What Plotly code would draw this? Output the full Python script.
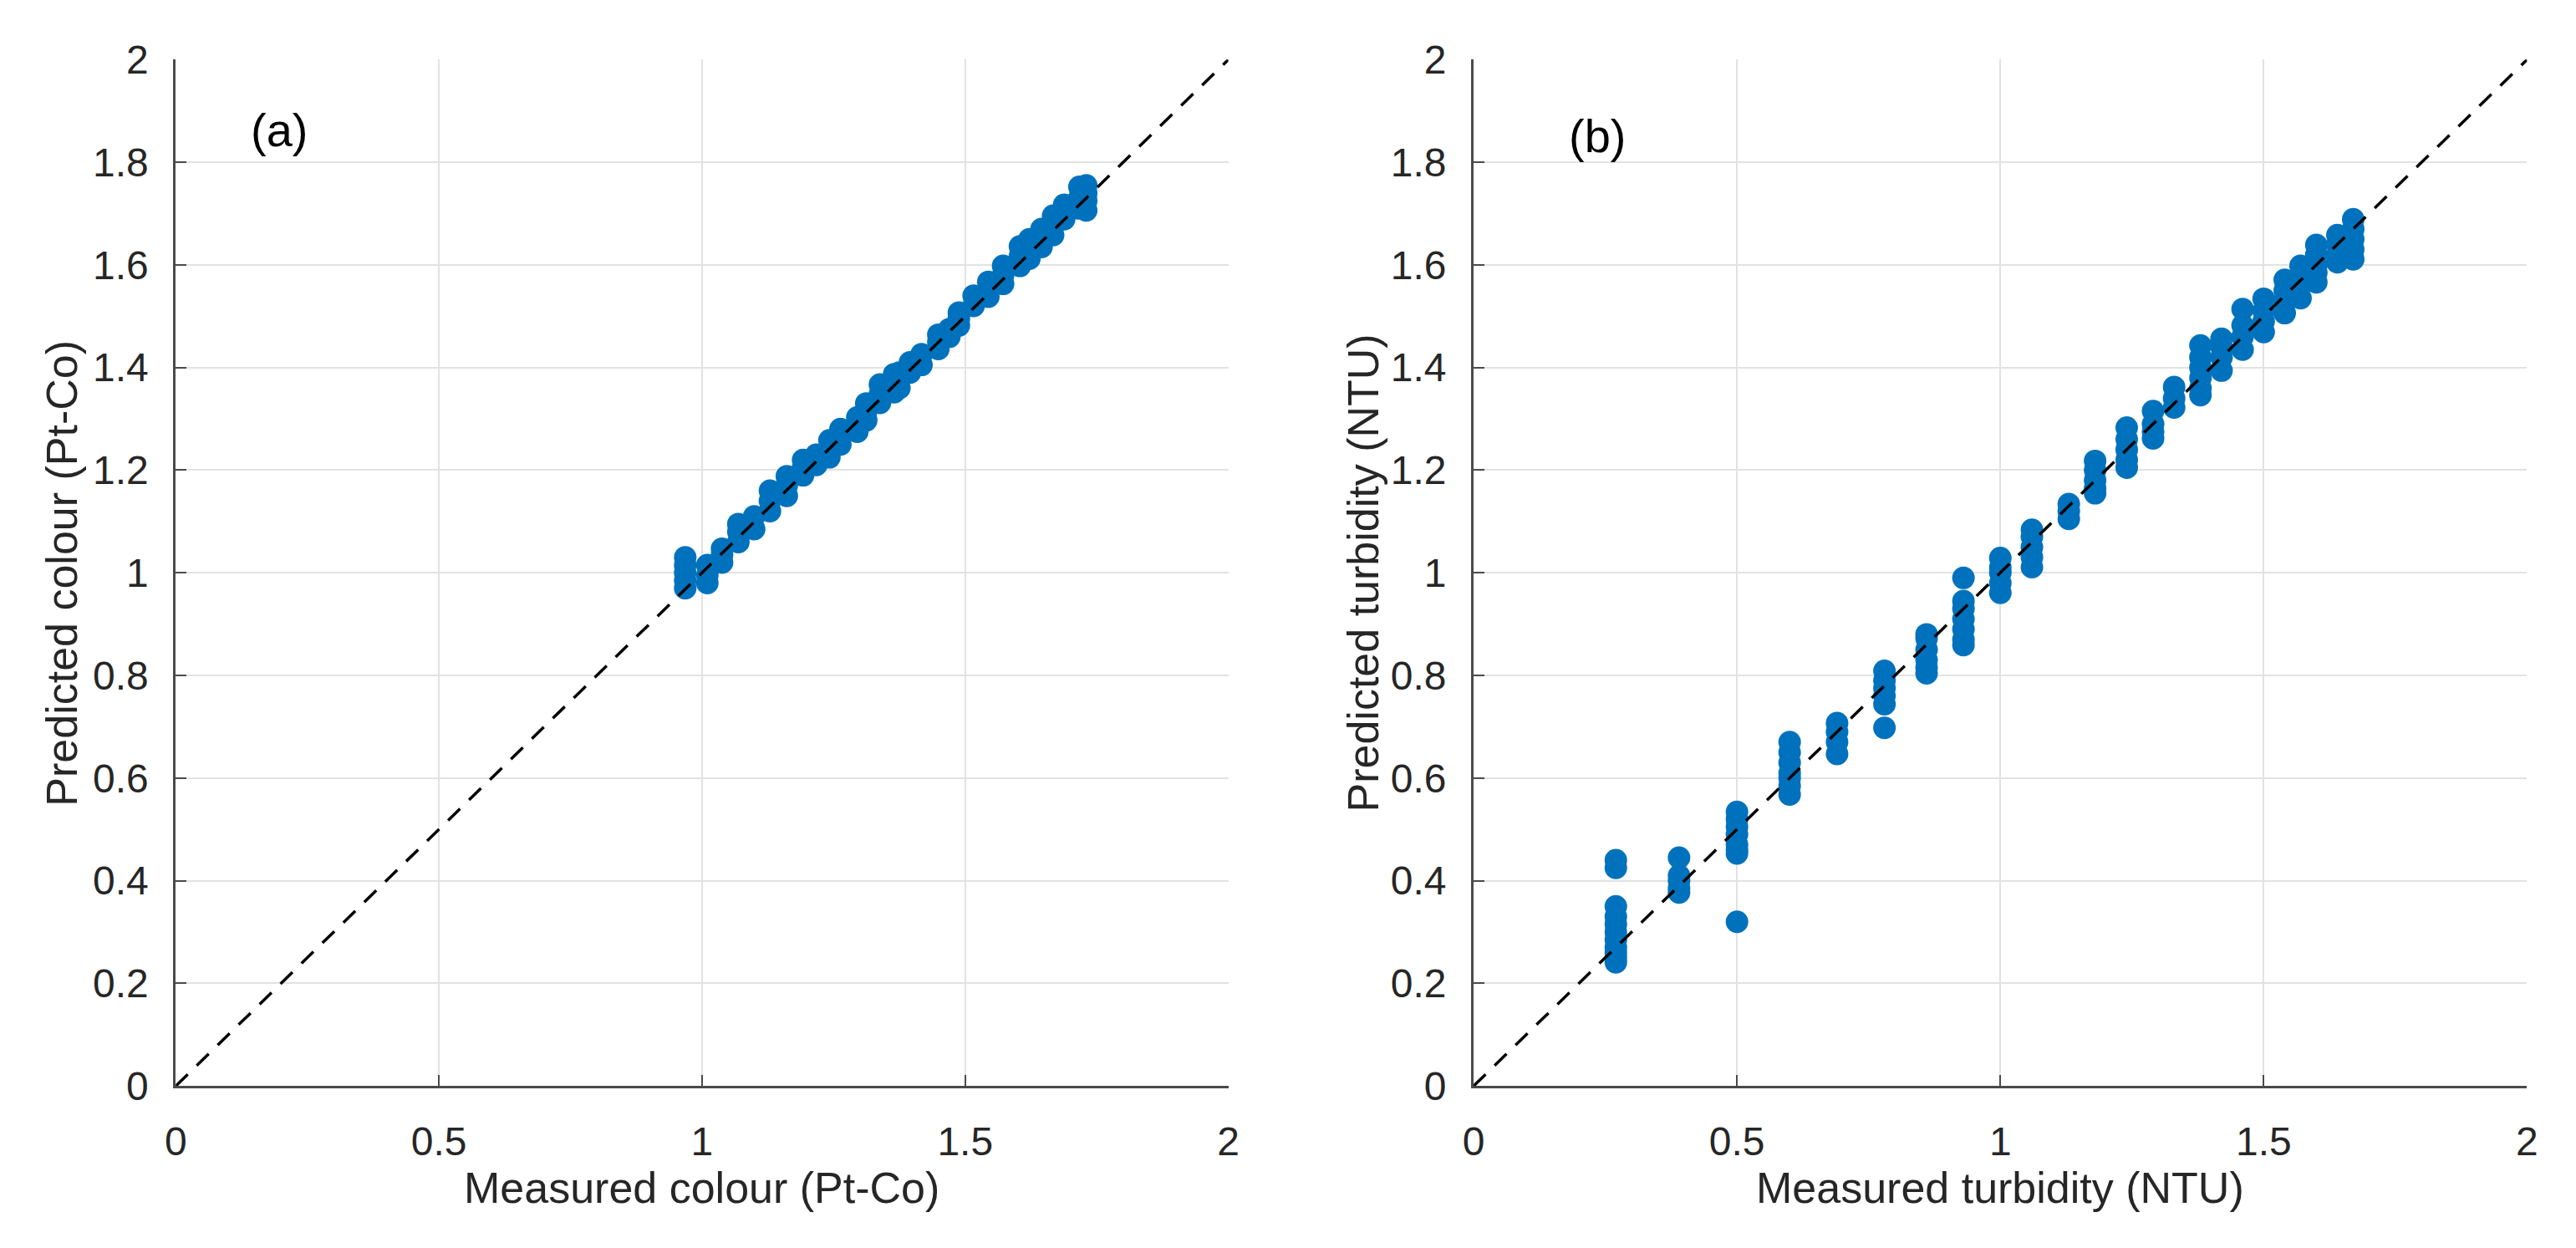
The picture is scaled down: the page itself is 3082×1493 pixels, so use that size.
import plotly.graph_objects as go

# ---------------- data ----------------
# Panel (a): colour (Pt-Co)
meas_colour = [0.968, 0.968, 0.968, 0.968, 0.968,
               1.010, 1.010, 1.010,
               1.038, 1.038, 1.038,
               1.069, 1.069, 1.069,
               1.099, 1.099,
               1.129, 1.129, 1.129,
               1.161, 1.161, 1.161,
               1.192, 1.192, 1.192,
               1.217, 1.217,
               1.242, 1.242, 1.242,
               1.263, 1.263, 1.263,
               1.295, 1.295, 1.295,
               1.312, 1.312, 1.312,
               1.338, 1.338, 1.338,
               1.365, 1.365, 1.365,
               1.375, 1.375,
               1.395, 1.395,
               1.417, 1.417,
               1.449, 1.449, 1.449,
               1.470, 1.470,
               1.488, 1.488, 1.488,
               1.516, 1.516,
               1.544, 1.544, 1.544,
               1.572, 1.572, 1.572,
               1.604, 1.604, 1.604,
               1.622, 1.622, 1.622,
               1.645, 1.645, 1.645,
               1.667, 1.667, 1.667,
               1.688, 1.688, 1.688,
               1.717, 1.717, 1.717,
               1.730, 1.730, 1.730, 1.730]
pred_colour = [0.970, 0.985, 1.000, 1.015, 1.030,
               0.980, 0.995, 1.015,
               1.020, 1.035, 1.047,
               1.060, 1.080, 1.095,
               1.085, 1.110,
               1.120, 1.140, 1.160,
               1.150, 1.170, 1.188,
               1.190, 1.205, 1.220,
               1.210, 1.230,
               1.225, 1.240, 1.258,
               1.250, 1.265, 1.280,
               1.275, 1.290, 1.303,
               1.297, 1.315, 1.330,
               1.331, 1.348, 1.367,
               1.352, 1.370, 1.387,
               1.360, 1.390,
               1.390, 1.410,
               1.405, 1.426,
               1.436, 1.450, 1.464,
               1.460, 1.475,
               1.482, 1.495, 1.507,
               1.520, 1.540,
               1.538, 1.552, 1.567,
               1.563, 1.580, 1.598,
               1.598, 1.617, 1.636,
               1.612, 1.630, 1.650,
               1.635, 1.655, 1.670,
               1.658, 1.675, 1.696,
               1.689, 1.705, 1.717,
               1.710, 1.730, 1.752,
               1.706, 1.725, 1.740, 1.755]

# Panel (b): turbidity (NTU)
meas_turb = ([0.27] * 11 + [0.39] * 5 + [0.50] * 8 + [0.60] * 7 + [0.69] * 4 +
             [0.78] * 6 + [0.86] * 6 + [0.93] * 7 + [1.00] * 5 + [1.06] * 5 +
             [1.13] * 3 + [1.18] * 5 + [1.24] * 5 + [1.29] * 4 + [1.33] * 3 +
             [1.38] * 6 + [1.42] * 4 + [1.46] * 4 + [1.50] * 4 + [1.54] * 4 +
             [1.57] * 4 + [1.60] * 5 + [1.64] * 4 + [1.67] * 5)
pred_turb = [0.440, 0.425, 0.350, 0.330, 0.315, 0.300, 0.285, 0.270, 0.260, 0.250, 0.241,
             0.445, 0.410, 0.400, 0.385, 0.377,
             0.534, 0.520, 0.505, 0.490, 0.470, 0.460, 0.453, 0.320,
             0.670, 0.650, 0.630, 0.610, 0.600, 0.585, 0.568,
             0.707, 0.690, 0.670, 0.647,
             0.809, 0.790, 0.775, 0.760, 0.744, 0.698,
             0.880, 0.872, 0.850, 0.830, 0.815, 0.804,
             0.990, 0.945, 0.930, 0.910, 0.890, 0.870, 0.859,
             1.029, 1.010, 1.000, 0.980, 0.961,
             1.084, 1.070, 1.050, 1.030, 1.011,
             1.134, 1.120, 1.105,
             1.218, 1.200, 1.180, 1.165, 1.155,
             1.283, 1.260, 1.240, 1.220, 1.205,
             1.315, 1.290, 1.275, 1.262,
             1.362, 1.340, 1.322,
             1.443, 1.420, 1.400, 1.380, 1.360, 1.346,
             1.456, 1.440, 1.420, 1.394,
             1.514, 1.482, 1.460, 1.435,
             1.534, 1.510, 1.490, 1.469,
             1.571, 1.550, 1.530, 1.506,
             1.598, 1.580, 1.560, 1.535,
             1.639, 1.620, 1.600, 1.585, 1.566,
             1.658, 1.640, 1.620, 1.605,
             1.689, 1.670, 1.650, 1.630, 1.611]

identity = [0, 2]
x_ticks = [0, 0.5, 1, 1.5, 2]
x_tick_text = ["0", "0.5", "1", "1.5", "2"]
y_ticks = [0, 0.2, 0.4, 0.6, 0.8, 1.0, 1.2, 1.4, 1.6, 1.8, 2.0]
y_tick_text = ["0", "0.2", "0.4", "0.6", "0.8", "1", "1.2", "1.4", "1.6", "1.8", "2"]

x_titles = ["Measured colour (Pt-Co)", "Measured turbidity (NTU)"]
y_titles = ["Predicted colour (Pt-Co)", "Predicted turbidity (NTU)"]
panel_labels = ["(a)", "(b)"]

# ---------------- figure ----------------
W, H = 3082, 1493
FONT = "Liberation Sans, Arial, Helvetica, sans-serif"
BLUE = "#0072BD"
AXC = "#4a4a4a"

fig = go.Figure()

for i, (xs, ys) in enumerate([(meas_colour, pred_colour), (meas_turb, pred_turb)]):
    xa = "x" if i == 0 else "x2"
    ya = "y" if i == 0 else "y2"
    fig.add_trace(go.Scatter(x=xs, y=ys, mode="markers", xaxis=xa, yaxis=ya,
                             marker=dict(size=27, color=BLUE, line=dict(width=0)),
                             showlegend=False, hoverinfo="x+y"))
    fig.add_trace(go.Scatter(x=identity, y=identity, mode="lines", xaxis=xa, yaxis=ya,
                             line=dict(color="black", width=3.5, dash="20px,15px"),
                             showlegend=False, hoverinfo="skip"))

x_domains = [[199 / W, 1469 / W], [1765 / W, 3036 / W]]
y_domain = [1 - 1320 / H, 1 - 47 / H]

common = dict(range=[0, 2], showgrid=True, gridcolor="#e2e2e2", gridwidth=2,
              zeroline=False, showline=True, linecolor=AXC, linewidth=3,
              ticks="inside", ticklen=13, tickwidth=2, tickcolor=AXC,
              tickfont=dict(family=FONT, size=48, color="#262626"),
              mirror=False, fixedrange=True)

layout = dict(width=W, height=H, margin=dict(l=0, r=0, t=0, b=0),
              plot_bgcolor="white", paper_bgcolor="white",
              font=dict(family=FONT, color="#262626"))
for i in range(2):
    sx = "" if i == 0 else "2"
    layout["xaxis" + sx] = dict(common, domain=x_domains[i], anchor="y" + sx,
                                tickvals=x_ticks, ticktext=x_tick_text,
                                ticklabelstandoff=22)
    layout["yaxis" + sx] = dict(common, domain=y_domain, anchor="x" + sx,
                                tickvals=y_ticks, ticktext=y_tick_text,
                                ticklabelstandoff=20)
fig.update_layout(**layout)

annotations = []
for i in range(2):
    cx = (x_domains[i][0] + x_domains[i][1]) / 2
    annotations.append(dict(text=x_titles[i], xref="paper", yref="paper",
                            x=cx, y=1 - 1446 / H, xanchor="center", yanchor="middle",
                            showarrow=False, font=dict(family=FONT, size=52, color="#262626")))
    ytx = [62 / W, 1632 / W][i]
    annotations.append(dict(text=y_titles[i], xref="paper", yref="paper",
                            x=ytx, y=(y_domain[0] + y_domain[1]) / 2, textangle=-90,
                            xanchor="center", yanchor="middle",
                            showarrow=False, font=dict(family=FONT, size=52, color="#262626")))
    sx = "" if i == 0 else "2"
    annotations.append(dict(text=panel_labels[i], xref="x" + sx, yref="y" + sx,
                            x=[0.139, 0.178][i], y=[1.863, 1.851][i],
                            xanchor="left", yanchor="middle", showarrow=False,
                            font=dict(family=FONT, size=56, color="black")))
fig.update_layout(annotations=annotations)

fig.write_html("out.html", include_plotlyjs=True,
               config={"displayModeBar": False},
               post_script="document.body.style.margin='0';document.body.style.overflow='hidden';")
